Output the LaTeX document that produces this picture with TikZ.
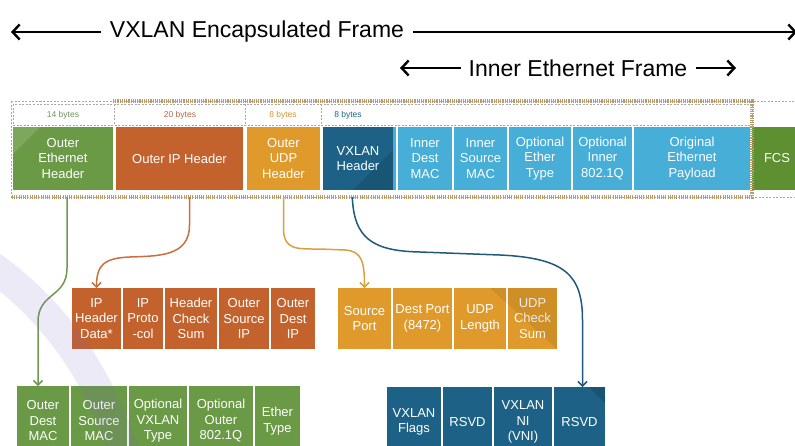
\documentclass[tikz,border=0pt]{standalone}
\usepackage{fontspec}
\setmainfont{Liberation Sans}
\usetikzlibrary{arrows.meta,calc}

\definecolor{ethgreen}{HTML}{6A9A45}
\definecolor{fcsgreen}{HTML}{5E8F30}
\definecolor{iporange}{HTML}{C4622D}
\definecolor{udpyellow}{HTML}{DF9A2B}
\definecolor{vxblue}{HTML}{1D6286}
\definecolor{innerblue}{HTML}{47AED8}
\definecolor{hatchtan}{HTML}{B89C6E}
\definecolor{dashgrey}{HTML}{A8A8A8}
\definecolor{lnGreen}{HTML}{6F9A50}
\definecolor{lnOrange}{HTML}{C87040}
\definecolor{lnYellow}{HTML}{D9A040}
\definecolor{lnBlue}{HTML}{1F5A7A}
\definecolor{bandpurple}{HTML}{7B5FD0}

\newcommand\cellfnt{\fontsize{13}{15.5}\selectfont}
\newcommand\bytefnt{\fontsize{8.5}{10}\selectfont}
\newcommand\headfnt{\fontsize{23}{26}\selectfont}

\tikzset{
  cell/.style={anchor=north west, inner sep=0pt, outer sep=0pt, text=white,
               align=center, font=\cellfnt},
  topcell/.style={cell, minimum height=63},
  lowcell/.style={cell, minimum height=61},
  botcell/.style={cell, minimum height=70},
  bytelbl/.style={font=\bytefnt, inner sep=0pt},
  hatch/.style={draw=hatchtan, line width=3.6pt, dash pattern=on 1.1pt off 1.1pt},
  thindash/.style={draw=dashgrey, line width=0.6pt, dash pattern=on 2pt off 1.5pt},
  bigarrow/.style={line width=2.4pt, -{Straight Barb[length=7pt,width=15pt]}},
  conn/.style={line width=1.5pt, shorten <=7pt, -{Straight Barb[length=4.5pt,width=9pt]}},
  headlbl/.style={font=\headfnt, inner sep=0pt}
}

\begin{document}
\begin{tikzpicture}[x=1pt,y=-1pt]
\useasboundingbox (0,0) rectangle (795,445);
\clip (0,0) rectangle (795,445);
\fill[white] (0,0) rectangle (795,445);

% ---------- headings with their span arrows ----------
\node[headlbl] (enc) at (257,32) {VXLAN Encapsulated Frame};
\coordinate (encL) at (11,32);
\coordinate (encR) at (797,32);
\draw[bigarrow] ([xshift=-9pt]enc.west) -- (encL);
\draw[bigarrow] ([xshift=9pt]enc.east) -- (encR);

\node[headlbl] (inn) at (578,68) {Inner Ethernet Frame};
\coordinate (innL) at (400,68);
\coordinate (innR) at (736,68);
\draw[bigarrow] ([xshift=-8pt]inn.west) -- (innL);
\draw[bigarrow] ([xshift=8pt]inn.east) -- (innR);

% ---------- frame outline and byte-count row ----------
\draw[thindash] (11,101) rectangle (800,197);
\draw[thindash] (13,104) rectangle (752,125);
\draw[thindash] (114.5,104) -- (114.5,125);
\draw[thindash] (245,104) -- (245,125);
\draw[thindash] (321.5,104) -- (321.5,125);
\node[bytelbl, text=ethgreen!70!gray] (b14) at (63,115) {14 bytes};
\node[bytelbl, text=iporange!70!gray] (b20) at (180,115) {20 bytes};
\node[bytelbl, text=udpyellow!85!gray] (b8a) at (283,115) {8 bytes};
\node[bytelbl, text=vxblue] (b8b) at (348,115) {8 bytes};

% ---------- encapsulated frame ----------
\node[topcell, fill=ethgreen, minimum width=100] (oeth) at (13,127) {Outer\\Ethernet\\Header};
\node[topcell, fill=iporange, minimum width=127] (oip) at (116,127) {Outer IP Header};
\node[topcell, fill=udpyellow, minimum width=73] (oudp) at (247,127) {Outer\\UDP\\Header};
\node[topcell, fill=vxblue, minimum width=70] (vxh) at (323,127) {VXLAN\\Header};
\fill[innerblue] (393,127) rectangle (396,190);
\node[topcell, fill=innerblue, minimum width=54] (idmac) at (398,127) {Inner\\Dest\\MAC};
\node[topcell, fill=innerblue, minimum width=53] (ismac) at (454,127) {Inner\\Source\\MAC};
\node[topcell, fill=innerblue, minimum width=62] (oetype) at (509,127) {Optional\\Ether\\Type};
\node[topcell, fill=innerblue, minimum width=59] (oinq) at (573,127) {Optional\\Inner\\802.1Q};
\node[topcell, fill=innerblue, minimum width=116] (pay) at (634,127) {Original\\Ethernet\\Payload};
\node[topcell, fill=fcsgreen, minimum width=50] (fcs) at (752,127) {FCS};

% corner shading on the header cells
\fill[white, opacity=0.13] (13,127) -- (40,127) -- (13,154) -- cycle;
\fill[black, opacity=0.12] (393,150) -- (393,190) -- (353,190) -- cycle;

% hatched border of the encapsulated frame
\draw[hatch] (113,101) -- (752,101) -- (752,197) -- (11,197);

% ---------- outer IP header fields ----------
\node[lowcell, fill=iporange, minimum width=49] (ipdata) at (72,288) {IP\\Header\\Data*};
\node[lowcell, fill=iporange, minimum width=40] (ipproto) at (123,288) {IP\\Proto\\-col};
\node[lowcell, fill=iporange, minimum width=52] (ipcsum) at (165,288) {Header\\Check\\Sum};
\node[lowcell, fill=iporange, minimum width=50] (ipsrc) at (219,288) {Outer\\Source\\IP};
\node[lowcell, fill=iporange, minimum width=44] (ipdst) at (271,288) {Outer\\Dest\\IP};

% ---------- outer UDP header fields ----------
\node[lowcell, fill=udpyellow, minimum width=53] (sport) at (338,288) {Source\\Port};
\node[lowcell, fill=udpyellow, minimum width=59] (dport) at (393,288) {Dest Port\\(8472)};
\node[lowcell, fill=udpyellow, minimum width=52] (ulen) at (454,288) {UDP\\Length};
\node[lowcell, fill=udpyellow, minimum width=49] (ucsum) at (508,288) {UDP\\Check\\Sum};
\fill[black, opacity=0.07] (490,288) -- (557,288) -- (557,349) -- cycle;

% ---------- outer Ethernet header fields ----------
\node[botcell, fill=ethgreen, minimum width=52] (odmac) at (17,386) {Outer\\Dest\\MAC};
\node[botcell, fill=ethgreen, minimum width=56] (osmac) at (71,386) {Outer\\Source\\MAC};
\node[botcell, fill=ethgreen, minimum width=58] (ovxt) at (129,386) {Optional\\VXLAN\\Type};
\node[botcell, fill=ethgreen, minimum width=64] (oq) at (189,386) {Optional\\Outer\\802.1Q};
\node[botcell, fill=ethgreen, minimum width=45] (etype) at (255,386) {Ether\\Type};

% ---------- VXLAN header fields ----------
\node[botcell, fill=vxblue, minimum width=54] (vflags) at (387,387) {VXLAN\\Flags};
\node[botcell, fill=vxblue, minimum width=49] (rsvda) at (443,387) {RSVD};
\node[botcell, fill=vxblue, minimum width=58] (vni) at (494,387) {VXLAN\\NI\\(VNI)};
\node[botcell, fill=vxblue, minimum width=51] (rsvdb) at (554,387) {RSVD};
\fill[black, opacity=0.15] (589,387) -- (605,387) -- (605,403) -- cycle;

% ---------- connectors from each header to its fields ----------
\draw[conn, draw=lnGreen] ([xshift=4pt]oeth.south) -- (67,268)
  .. controls (67,298) and (38,292) .. (38,322) -- (38,386);
\draw[conn, draw=lnOrange] ([xshift=10pt]oip.south) -- (189.5,225)
  .. controls (189.5,256) and (160,256) .. (130,257)
  .. controls (104,258) and (96.5,265) .. (ipdata.north);
\draw[conn, draw=lnYellow] (oudp.south) -- (283.5,228)
  .. controls (283.5,250) and (296,249) .. (320,249) -- (345,250)
  .. controls (362,251) and (364.5,262) .. (sport.north);
\draw[conn, draw=lnBlue] ([xshift=-6pt]vxh.south)
  .. controls (354,238) and (372,251) .. (420,252) -- (500,255)
  .. controls (565,258) and (582.5,275) .. (582.5,320) -- ([xshift=3pt]rsvdb.north);

% translucent decorative band
\draw[bandpurple, opacity=0.13, line width=30pt]
  (-10,265) .. controls (40,300) and (95,360) .. (125,455);
\end{tikzpicture}
\end{document}
